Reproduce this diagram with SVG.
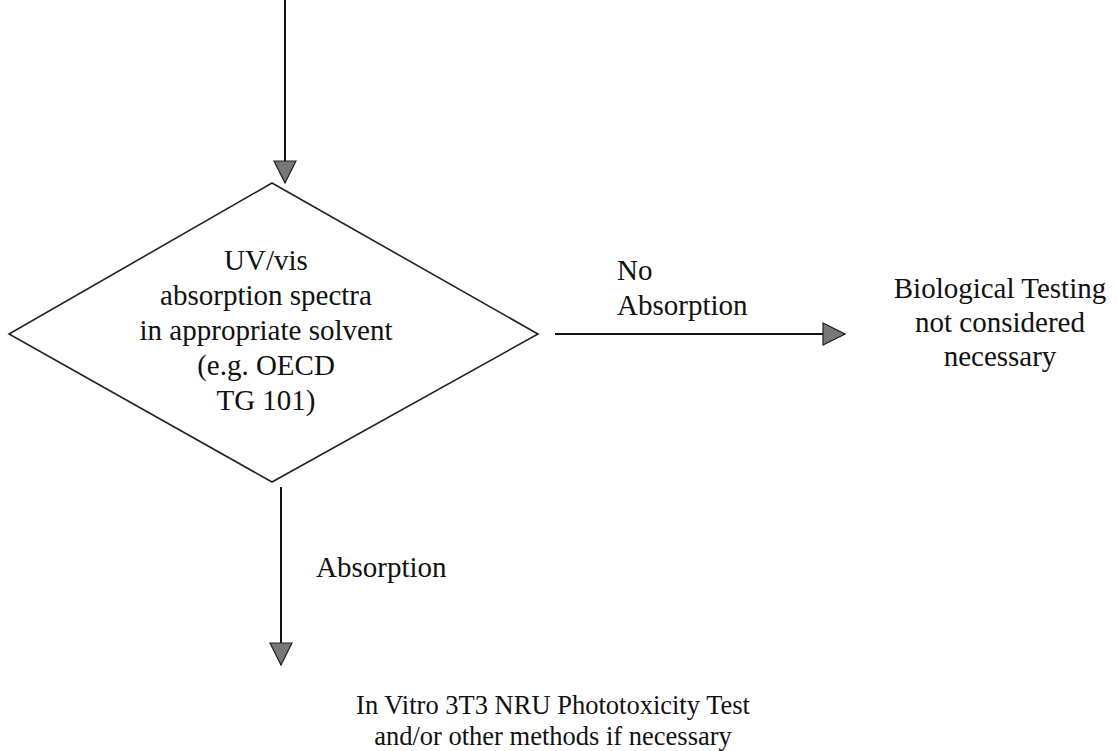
<svg xmlns="http://www.w3.org/2000/svg" width="1117" height="751" viewBox="0 0 1117 751">
  <style>
    .t { font-family: "Liberation Serif", "Times New Roman", serif; font-size: 29px; fill: #111; }
    .s { font-size: 26.5px; }
    .c { text-anchor: middle; }
    .edge { stroke: #111; stroke-width: 2; fill: none; }
    .shape { stroke: #222; stroke-width: 1.6; fill: #fff; }
  </style>
  <defs>
    <marker id="arrow" viewBox="0 0 24 24" refX="23" refY="12" markerWidth="24" markerHeight="24" markerUnits="userSpaceOnUse" orient="auto">
      <path d="M1,1 L23,12 L1,23 Z" fill="#777" stroke="#222" stroke-width="1.2"/>
    </marker>
  </defs>
  <rect width="1117" height="751" fill="#fff"/>

  <g id="connectors">
    <line class="edge" x1="285" y1="0" x2="285" y2="183" marker-end="url(#arrow)"/>
    <line class="edge" x1="555" y1="334" x2="845" y2="334" marker-end="url(#arrow)"/>
    <line class="edge" x1="281" y1="487" x2="281" y2="665" marker-end="url(#arrow)"/>
    <text class="t" x="617" y="280">No</text>
    <text class="t" x="617" y="315">Absorption</text>
    <text class="t" x="316" y="577">Absorption</text>
  </g>

  <g id="decision">
    <polygon class="shape" points="272,183 538,334 272,482 9,334"/>
    <text class="t c" x="266" y="270">UV/vis</text>
    <text class="t c" x="266" y="305">absorption spectra</text>
    <text class="t c" x="266" y="340">in appropriate solvent</text>
    <text class="t c" x="266" y="375">(e.g. OECD</text>
    <text class="t c" x="266" y="410">TG 101)</text>
  </g>

  <g id="no-testing">
    <text class="t c" x="1000" y="298">Biological Testing</text>
    <text class="t c" x="1000" y="332">not considered</text>
    <text class="t c" x="1000" y="366">necessary</text>
  </g>

  <g id="phototox-test">
    <text class="t s c" x="553" y="714">In Vitro 3T3 NRU Phototoxicity Test</text>
    <text class="t s c" x="553" y="745">and/or other methods if necessary</text>
  </g>
</svg>
